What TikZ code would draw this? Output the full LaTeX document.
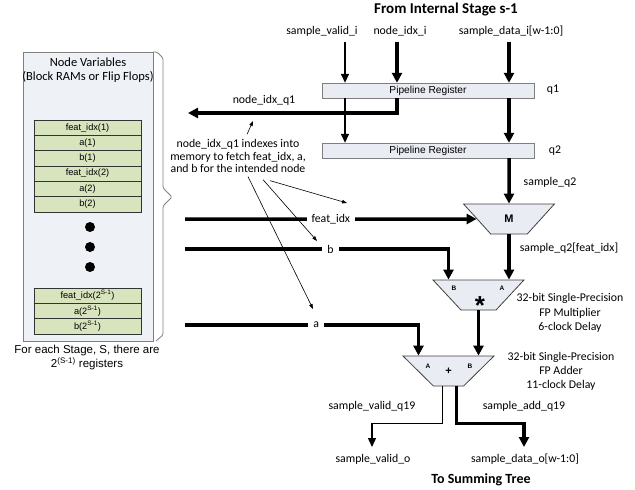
\documentclass[tikz,border=0pt]{standalone}
\usepackage{fontspec}
\setmainfont{Carlito}
\newfontfamily\arialfont{Liberation Sans}
\usetikzlibrary{arrows.meta,shapes.geometric,positioning}

\definecolor{regfill}{HTML}{E9EDF3}
\definecolor{memfill}{HTML}{EEF1F6}
\definecolor{cellfill}{HTML}{D7E4BD}
\definecolor{edgegray}{HTML}{7F7F7F}

\tikzset{
  wire/.style={line width=1.4pt},
  bus/.style={line width=3.5pt},
  tip/.style={-{Triangle[length=9pt,width=8pt]}},
  bigtip/.style={-{Triangle[length=10pt,width=10pt]}},
  sig/.style={font=\fontsize{11.8}{13}\selectfont, inner sep=1pt},
  gap/.style={sig, fill=white, inner xsep=5pt},
  pipereg/.style={draw=edgegray, fill=regfill, minimum width=212pt, minimum height=15pt,
    inner sep=0, font=\arialfont\fontsize{10.2}{11}\selectfont},
  mux/.style={trapezium, shape border rotate=180, trapezium angle=45, trapezium stretches=true,
    minimum width=91pt, minimum height=30pt, inner sep=0, draw=black!75, fill=regfill, line width=0.8pt,
    font=\arialfont\bfseries\fontsize{11}{12}\selectfont},
  cell/.style={draw=black!80, fill=cellfill, minimum width=107pt, minimum height=15.3pt,
    inner sep=0, outer sep=0, font=\arialfont\fontsize{9.2}{10}\selectfont},
  pin/.style={font=\arialfont\bfseries\fontsize{6.5}{7}\selectfont, inner sep=0},
  pointer/.style={line width=0.6pt, -{Triangle[length=5pt,width=3.5pt]}},
}

\begin{document}
\begin{tikzpicture}[x=1pt, y=-1pt]
  \useasboundingbox (0,0) rectangle (635,490);
  % memory
  \node[draw=edgegray, fill=memfill, minimum width=130pt, minimum height=289pt] (mem) at (88,196.5) {};
  \draw[edgegray, line width=0.8pt, rounded corners=1.5pt] (153,52) -- (157,52) -- (163,58) -- (163,188)
        -- (172,197) -- (163,206) -- (163,335) -- (156,341);
  \node[font=\fontsize{12.5}{14}\selectfont, align=center] (memtitle) at (88,70)
        {Node Variables\\(Block RAMs or Flip Flops)};
  \node[cell] (f1) at (87.5,127.7) {feat\_idx(1)};
  \node[cell, below=0pt of f1] (a1) {a(1)};
  \node[cell, below=0pt of a1] (b1) {b(1)};
  \node[cell, below=0pt of b1] (f2) {feat\_idx(2)};
  \node[cell, below=0pt of f2] (a2) {a(2)};
  \node[cell, below=0pt of a2] (b2) {b(2)};
  \fill (90,227) circle (5) (90,247) circle (5) (90,267) circle (5);
  \node[cell] (fn) at (87.5,295.5) {feat\_idx(2\textsuperscript{S-1})};
  \node[cell, below=0pt of fn] (an) {a(2\textsuperscript{S-1})};
  \node[cell, below=0pt of an] (bn) {b(2\textsuperscript{S-1})};
  \node[font=\arialfont\fontsize{11.5}{14}\selectfont, align=center] (memnote) at (87,358)
        {For each Stage, S, there are\\2\textsuperscript{(S-1)} registers};

  % inputs
  \node[font=\bfseries\fontsize{15}{16}\selectfont] (from) at (446,10) {From Internal Stage s-1};
  \node[sig] (vin) at (322,31) {sample\_valid\_i};
  \node[sig] (nin) at (400,31) {node\_idx\_i};
  \node[sig] (din) at (511,31) {sample\_data\_i[w-1:0]};
  \coordinate (vtop) at (345,42);
  \coordinate (ntop) at (397,42);
  \coordinate (dtop) at (509,42);

  \node[pipereg] (reg1) at (428,90.5) {Pipeline Register};
  \node[sig] (q1) at (553,90) {q1};
  \node[pipereg] (reg2) at (428,150.5) {Pipeline Register};
  \node[sig] (q2) at (555,151) {q2};

  \draw[wire,tip] (vtop) -- (vtop |- reg1.north);
  \draw[bus,bigtip] (ntop) -- (ntop |- reg1.north);
  \draw[bus,bigtip] (dtop) -- (dtop |- reg1.north);
  \draw[wire,tip] (vtop |- reg1.south) -- (vtop |- reg2.north);
  \draw[bus,bigtip] (dtop |- reg1.south) -- (dtop |- reg2.north);
  \coordinate (qout) at (188,113);
  \draw[bus,bigtip] (ntop |- reg1.south) |- (qout);
  \node[sig] (qlbl) at (264,100) {node\_idx\_q1};

  % datapath
  \node[mux, trapezium angle=48] (M) at (509,219) {M};
  \node[mux, trapezium angle=46] (mul) at (478.5,295) {\phantom{M}};
  \node[mux] (add) at (448.5,371) {+};
  \node[font=\arialfont\bfseries\fontsize{26}{26}\selectfont, inner sep=0] (star) at (480,306) {*};
  \node[pin] (mulB) at (454,288) {B};
  \node[pin] (mulA) at (502,288) {A};
  \node[pin] (addA) at (428,366) {A};
  \node[pin] (addB) at (470,366) {B};

  \draw[bus,bigtip] (dtop |- reg2.south) -- (M.north);
  \node[sig] (sq2) at (550,182) {sample\_q2};
  \coordinate (fsrc) at (185,219);
  \coordinate (bsrc) at (185,249);
  \coordinate (asrc) at (185,325);
  \draw[bus,bigtip] (fsrc) -- (M.west) node[gap, pos=0.5] {feat\_idx};
  \draw[bus,bigtip] (bsrc) -| ([xshift=-30pt]mul.north) node[gap, pos=0.276] {b};
  \draw[bus,bigtip] (M.south) -- (M.south |- mul.north);
  \node[sig] (sqf) at (569,248) {sample\_q2[feat\_idx]};
  \draw[bus,bigtip] (asrc) -| ([xshift=-30pt]add.north) node[gap, pos=0.281] {a};
  \draw[bus,bigtip] (mul.south) -- (mul.south |- add.north);
  \node[sig, align=center, font=\fontsize{11.8}{14.5}\selectfont] (mullbl) at (570,313)
        {32-bit Single-Precision\\FP Multiplier\\6-clock Delay};
  \node[sig, align=center, font=\fontsize{11.8}{14}\selectfont] (addlbl) at (561,371)
        {32-bit Single-Precision\\FP Adder\\11-clock Delay};

  % outputs
  \node[sig] (vq19) at (372,406) {sample\_valid\_q19};
  \node[sig] (aq19) at (524,406) {sample\_add\_q19};
  \coordinate (vout) at (372,447);
  \coordinate (dout) at (524,447);
  \draw[wire,tip] ([xshift=-6pt]add.south) -- ++(0,37) -| (vout);
  \draw[bus,bigtip] ([xshift=8pt]add.south) -- ++(0,37) -| (dout);
  \node[sig] (vo) at (373,459) {sample\_valid\_o};
  \node[sig] (do) at (525,459) {sample\_data\_o[w-1:0]};
  \node[font=\bfseries\fontsize{14}{15}\selectfont] (sum) at (481,480) {To Summing Tree};

  % note
  \node[sig, align=center, font=\fontsize{11.8}{12.8}\selectfont] (note) at (238,156)
        {node\_idx\_q1 indexes into\\memory to fetch feat\_idx, a,\\and b for the intended node};
  \coordinate (p1) at (253,121);
  \coordinate (p2) at (347,203);
  \coordinate (p3) at (317,241);
  \coordinate (p4) at (313,309);
  \draw[pointer] ([xshift=9pt,yshift=3.5pt]note.north) -- (p1);
  \draw[pointer] ([xshift=32pt,yshift=-6.5pt]note.south) -- (p2);
  \draw[pointer] ([xshift=25pt,yshift=-5.5pt]note.south) -- (p3);
  \draw[pointer] ([xshift=10pt,yshift=-2.5pt]note.south) -- (p4);
\end{tikzpicture}
\end{document}
